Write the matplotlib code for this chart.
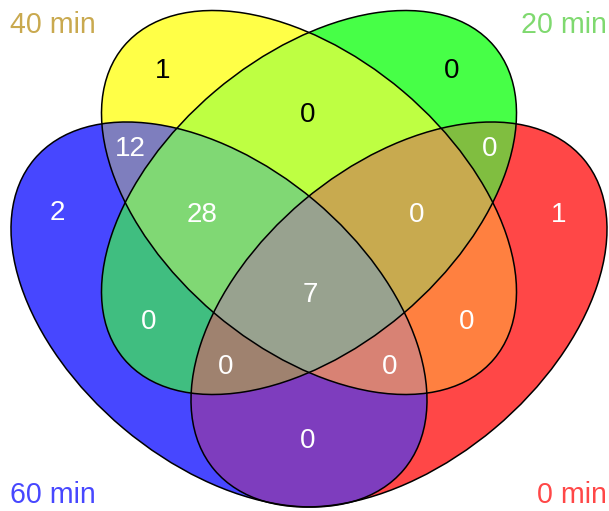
import numpy as np
import matplotlib
matplotlib.use("Agg")
import matplotlib.pyplot as plt
from matplotlib.patches import Ellipse

# ---------------- data ----------------
categories = ["40 min", "20 min", "0 min", "60 min"]
category_colors = ["#C9A94F", "#7FD96F", "#FF4747", "#4747FF"]

# region membership: (40 min, 20 min, 0 min, 60 min)
region_members = [
    (1, 0, 0, 0), (0, 1, 0, 0), (1, 1, 0, 0), (1, 0, 0, 1), (0, 1, 1, 0),
    (0, 0, 0, 1), (1, 1, 0, 1), (1, 1, 1, 0), (0, 0, 1, 0), (0, 1, 0, 1),
    (1, 1, 1, 1), (1, 0, 1, 0), (0, 1, 1, 1), (1, 0, 1, 1), (0, 0, 1, 1),
]
region_counts = [1, 0, 0, 12, 0, 2, 28, 0, 1, 0, 7, 0, 0, 0, 0]
region_fill = [
    "#FFFF47", "#47FF47", "#BEFF42", "#7E7EBE", "#80BE40",
    "#4747FF", "#80D874", "#C8AA50", "#FF4747", "#40BE80",
    "#98A290", "#FF8040", "#9F8270", "#D88274", "#7E3DBE",
]
region_text_color = ["black", "black", "black"] + ["white"] * 12

# ---------------- layout (pixel space) ----------------
W_PX, H_PX = 609, 511
# ellipse: centre x, centre y, half-width, half-height, xy-covariance term
ell_cx = [309.0, 309.0, 399.0, 219.0]
ell_cy = [202.5, 202.5, 314.5, 314.5]
ell_w = [207.5, 207.5, 208.0, 208.0]
ell_h = [192.0, 192.0, 192.5, 192.5]
ell_c = [18500.0, -18500.0, -17800.0, 17800.0]

label_xy = [
    (163, 78), (452, 78), (308, 122), (130, 156), (490, 156),
    (57, 219.5), (202, 221.5), (417, 222), (559, 222), (149, 329),
    (310, 302), (467, 329), (226, 374), (390, 374), (308, 448),
]
cat_xy = [(53, 33), (563.5, 33), (571.5, 503), (53, 503)]

fig = plt.figure(figsize=(W_PX / 100, H_PX / 100), dpi=100)
ax = fig.add_axes([0, 0, 1, 1])
ax.set_xlim(0, W_PX)
ax.set_ylim(H_PX, 0)
ax.axis("off")

# membership grid (supersampled)
ss = 3
xs = (np.arange(W_PX * ss) + 0.5) / ss
ys = (np.arange(H_PX * ss) + 0.5) / ss
X, Y = np.meshgrid(xs, ys)
code = np.zeros(X.shape, dtype=int)
for i in range(4):
    M = np.array([[ell_w[i] ** 2, ell_c[i]], [ell_c[i], ell_h[i] ** 2]])
    Mi = np.linalg.inv(M)
    dx = X - ell_cx[i]
    dy = Y - ell_cy[i]
    q = Mi[0, 0] * dx * dx + 2 * Mi[0, 1] * dx * dy + Mi[1, 1] * dy * dy
    code |= (q <= 1.0).astype(int) << i

lut = np.ones((16, 4))
for mem, col in zip(region_members, region_fill):
    k = sum(b << i for i, b in enumerate(mem))
    lut[k] = matplotlib.colors.to_rgba(col)
img = lut[code]
ax.imshow(img, extent=(0, W_PX, H_PX, 0), interpolation="antialiased", zorder=1)

for i in range(4):
    M = np.array([[ell_w[i] ** 2, ell_c[i]], [ell_c[i], ell_h[i] ** 2]])
    vals, vecs = np.linalg.eigh(M)
    major = vecs[:, 1]
    ang = np.degrees(np.arctan2(major[1], major[0]))
    e = Ellipse((ell_cx[i], ell_cy[i]), 2 * np.sqrt(vals[1]), 2 * np.sqrt(vals[0]),
                angle=ang, fill=False, edgecolor="black", linewidth=1.1, zorder=3)
    ax.add_patch(e)

font = "Liberation Sans"
for (x, y), n, tc in zip(label_xy, region_counts, region_text_color):
    ax.text(x, y, str(n), ha="center", va="baseline", fontsize=20,
            color=tc, family=font, zorder=4)
for (x, y), name, col in zip(cat_xy, categories, category_colors):
    ax.text(x, y, name, ha="center", va="baseline", fontsize=20.6,
            color=col, family=font, zorder=4)

fig.savefig("out.png", dpi=100)
